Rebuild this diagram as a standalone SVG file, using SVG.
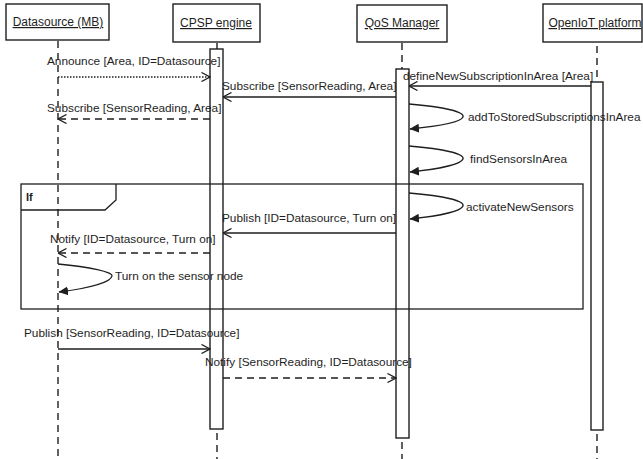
<svg xmlns="http://www.w3.org/2000/svg" width="643" height="459" viewBox="0 0 643 459">
  <style>
    .box { fill: #fff; stroke: #1e1e1e; stroke-width: 1.4; }
    .head { font-family: "Liberation Sans", Arial, sans-serif; font-size: 12px; fill: #1e1e1e; text-decoration: underline; text-anchor: middle; }
    .life { stroke: #1e1e1e; stroke-width: 1.4; stroke-dasharray: 7 5; fill: none; }
    .act { fill: none; stroke: #1e1e1e; stroke-width: 1.4; }
    .lbl { font-family: "Liberation Sans", Arial, sans-serif; font-size: 11.8px; fill: #1e1e1e; }
    .msg { stroke: #1e1e1e; stroke-width: 1.3; fill: none; marker-end: url(#open); }
    .dash { stroke-dasharray: 7 5; }
    .dot { stroke-dasharray: 1.5 1.5; }
    .self { stroke: #1e1e1e; stroke-width: 1.3; fill: none; marker-end: url(#solid); }
    .frame { fill: none; stroke: #1e1e1e; stroke-width: 1.3; }
  </style>
  <defs>
    <marker id="open" viewBox="0 0 10 10" refX="9.5" refY="5" markerWidth="10" markerHeight="10" markerUnits="userSpaceOnUse" orient="auto">
      <path d="M1,0.5 L9.5,5 L1,9.5" fill="none" stroke="#1e1e1e" stroke-width="1.3" stroke-dasharray="none"/>
    </marker>
    <marker id="solid" viewBox="0 0 10 10" refX="9" refY="5" markerWidth="10" markerHeight="10" markerUnits="userSpaceOnUse" orient="auto">
      <path d="M0,0.5 L9.5,5 L0,9.5 Z" fill="#1e1e1e" stroke="none"/>
    </marker>
  </defs>

  <rect width="643" height="459" fill="#fff"/>

  <!-- Combined fragment -->
  <g id="frame-if">
    <rect class="frame" x="21" y="184" width="562" height="125"/>
    <path class="frame" d="M116,184 L116,200 L105,210 L21,210"/>
    <text x="26" y="201" font-family="'Liberation Sans', Arial, sans-serif" font-size="11px" font-weight="bold" fill="#1e1e1e">If</text>
  </g>

  <!-- Lifelines -->
  <g id="datasource">
    <rect class="box" x="6" y="4" width="103" height="36"/>
    <text class="head" x="58" y="26">Datasource (MB)</text>
    <line class="life" x1="58" y1="41" x2="58" y2="459"/>
  </g>
  <g id="cpsp-engine">
    <rect class="box" x="173" y="4" width="87" height="38"/>
    <text class="head" x="216" y="27">CPSP engine</text>
    <line class="life" x1="217" y1="43" x2="217" y2="49"/>
    <rect class="act" x="210" y="49" width="13" height="380"/>
    <line class="life" x1="217" y1="433" x2="217" y2="459"/>
  </g>
  <g id="qos-manager">
    <rect class="box" x="357" y="5" width="90" height="37"/>
    <text class="head" x="402" y="27">QoS Manager</text>
    <line class="life" x1="402" y1="43" x2="402" y2="69"/>
    <rect class="act" x="396" y="69" width="13" height="369"/>
    <line class="life" x1="402" y1="442" x2="402" y2="459"/>
  </g>
  <g id="openiot-platform">
    <rect class="box" x="543" y="4" width="99" height="38"/>
    <text class="head" x="595" y="27">OpenIoT platform</text>
    <line class="life" x1="597" y1="46" x2="597" y2="82"/>
    <rect class="act" x="591" y="82" width="12" height="348"/>
    <line class="life" x1="597" y1="434" x2="597" y2="459"/>
  </g>

  <!-- Messages -->
  <g id="connectors">
    <line class="msg dot" x1="58" y1="77" x2="210" y2="77"/>
    <line class="msg" x1="591" y1="86" x2="409" y2="86"/>
    <line class="msg" x1="396" y1="97" x2="223" y2="97"/>
    <line class="msg dash" x1="210" y1="119" x2="58" y2="119"/>
    <path class="self" d="M409,104 C445,107 465,112 463,117 C461,122 440,126 410,129"/>
    <path class="self" d="M409,146 C445,149 465,154 463,159 C461,164 440,169 410,172"/>
    <path class="self" d="M409,193 C445,196 465,201 463,206 C461,211 440,216 410,219"/>
    <line class="msg" x1="396" y1="233" x2="223" y2="233"/>
    <line class="msg dash" x1="210" y1="253" x2="58" y2="253"/>
    <path class="self" d="M58,264 C90,267 113,272 112,276 C111,282 90,288 59,292"/>
    <line class="msg" x1="58" y1="349" x2="210" y2="349"/>
    <line class="msg dash" x1="223" y1="378" x2="396" y2="378"/>
  </g>

  <!-- Message labels -->
  <g id="labels">
    <text class="lbl" x="47" y="65">Announce [Area, ID=Datasource]</text>
    <text class="lbl" x="403" y="80">defineNewSubscriptionInArea [Area]</text>
    <text class="lbl" x="222" y="90">Subscribe [SensorReading, Area]</text>
    <text class="lbl" x="47" y="112">Subscribe [SensorReading, Area]</text>
    <text class="lbl" x="468" y="121">addToStoredSubscriptionsInArea</text>
    <text class="lbl" x="470" y="163">findSensorsInArea</text>
    <text class="lbl" x="466" y="211">activateNewSensors</text>
    <text class="lbl" x="222" y="222">Publish [ID=Datasource, Turn on]</text>
    <text class="lbl" x="50" y="243">Notify [ID=Datasource, Turn on]</text>
    <text class="lbl" x="115" y="280">Turn on the sensor node</text>
    <text class="lbl" x="24" y="337">Publish [SensorReading, ID=Datasource]</text>
    <text class="lbl" x="205" y="366">Notify [SensorReading, ID=Datasource]</text>
  </g>
</svg>
